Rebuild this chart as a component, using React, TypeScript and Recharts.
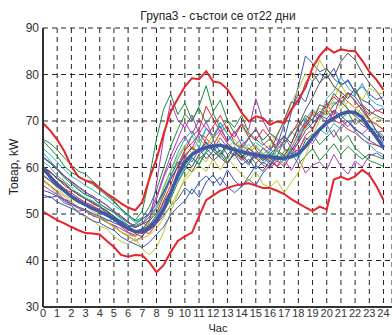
import { LineChart, Line, XAxis, YAxis, CartesianGrid } from 'recharts';

const HOURS = [
  0, 0.5, 1, 1.5, 2, 2.5, 3, 3.5, 4, 4.5, 5, 5.5, 6, 6.5, 7, 7.5,
  8, 8.5, 9, 9.5, 10, 10.5, 11, 11.5, 12, 12.5, 13, 13.5, 14, 14.5, 15, 15.5,
  16, 16.5, 17, 17.5, 18, 18.5, 19, 19.5, 20, 20.5, 21, 21.5, 22, 22.5, 23, 23.5,
  24,
];

// one row per day (22 days), half-hour load in kW
const DAY_LOADS: number[][] = [
  [53.5, 53.8, 52.6, 51.9, 51.2, 50.6, 50.9, 49.8, 49.2, 48.5, 48.9, 47.6, 47.1, 46.2, 45.8, 46.5,
    47.9, 49.6, 51.8, 53.2, 55.6, 54.3, 56.8, 58.2, 56.5, 57.9, 55.8, 54.6, 55.9, 57.4, 56.2, 58.8,
    60.5, 62.3, 66.1, 71.8, 77.5, 84.0, 82.4, 80.6, 81.3, 79.1, 77.8, 78.6, 76.2, 74.5, 73.8, 72.1, 72.8],
  [65.8, 64.1, 62.5, 60.3, 58.9, 58.2, 57.1, 56.4, 55.2, 53.9, 52.6, 51.1, 49.8, 48.7, 50.6, 57.8,
    66.2, 72.5, 75.8, 71.4, 73.9, 70.2, 72.8, 69.5, 71.6, 68.4, 70.1, 67.3, 69.2, 66.5, 68.1, 65.9,
    67.4, 66.2, 64.8, 67.5, 69.1, 70.6, 68.3, 71.2, 69.5, 72.1, 70.4, 71.8, 69.2, 70.5, 68.7, 67.9, 66.8],
  [58.2, 57.1, 55.8, 54.9, 53.6, 52.8, 52.1, 51.4, 50.6, 49.5, 48.8, 47.3, 46.1, 45.4, 46.2, 45.8,
    47.9, 50.3, 54.6, 59.2, 63.5, 66.8, 68.1, 73.2, 70.4, 67.6, 68.9, 65.2, 64.1, 66.5, 63.8, 62.4,
    61.5, 60.2, 62.8, 64.1, 63.5, 66.9, 68.2, 71.5, 73.8, 71.2, 75.6, 74.1, 72.8, 73.5, 71.2, 72.4, 71.6],
  [63.2, 61.5, 59.8, 58.1, 56.9, 55.4, 54.2, 53.5, 52.1, 51.3, 50.2, 48.9, 47.6, 46.3, 46.8, 48.5,
    51.2, 55.8, 59.4, 63.1, 66.2, 67.9, 65.3, 68.4, 66.9, 69.5, 67.2, 64.8, 66.1, 63.9, 65.4, 64.2,
    63.1, 62.5, 61.8, 64.3, 66.9, 70.2, 72.5, 71.1, 74.8, 76.5, 79.4, 77.2, 75.6, 78.1, 74.9, 73.6, 73.1],
  [57.2, 56.1, 54.8, 53.2, 52.6, 51.4, 50.8, 49.6, 49.1, 48.2, 47.5, 46.1, 45.2, 44.3, 45.1, 48.2,
    56.5, 66.3, 74.1, 70.2, 68.5, 71.3, 67.2, 69.8, 66.4, 68.1, 65.9, 67.2, 69.5, 68.1, 74.8, 70.1,
    67.3, 65.8, 64.2, 62.9, 63.8, 66.4, 65.1, 67.8, 69.2, 66.5, 68.9, 70.1, 68.4, 67.2, 68.6, 66.9, 66.1],
  [57.1, 55.9, 54.3, 53.1, 51.8, 50.5, 49.2, 48.6, 47.4, 46.8, 45.2, 44.1, 43.5, 44.8, 42.5, 41.2,
    42.8, 46.1, 50.5, 54.2, 57.8, 60.1, 62.5, 61.2, 63.8, 62.1, 64.5, 61.8, 63.2, 65.1, 62.4, 63.9,
    64.8, 67.2, 69.5, 73.8, 76.9, 80.2, 78.5, 83.1, 80.4, 77.2, 75.8, 72.4, 70.9, 73.1, 70.2, 69.5, 68.2],
  [60.2, 59.1, 57.6, 56.2, 55.1, 54.5, 53.2, 52.6, 51.8, 50.4, 49.6, 48.1, 47.2, 45.8, 45.1, 47.6,
    49.8, 52.4, 55.1, 57.9, 60.2, 59.1, 61.8, 63.2, 61.5, 62.8, 60.9, 63.4, 62.1, 60.5, 62.8, 61.9,
    63.5, 66.8, 70.2, 74.1, 73.5, 78.2, 80.4, 78.1, 81.2, 79.5, 82.8, 84.6, 83.1, 80.4, 78.2, 76.5, 74.2],
  [54.2, 53.5, 53.9, 52.4, 51.8, 50.2, 49.6, 48.5, 48.1, 47.2, 46.5, 45.1, 44.2, 43.5, 42.8, 43.9,
    45.6, 47.2, 49.8, 51.5, 52.8, 55.4, 53.6, 56.9, 58.4, 56.1, 59.5, 57.2, 55.8, 58.1, 60.4, 59.2,
    61.5, 64.8, 69.2, 72.5, 75.8, 74.1, 78.6, 80.2, 79.1, 81.3, 77.5, 78.9, 76.2, 77.4, 75.8, 74.6, 75.2],
  [66.1, 65.2, 63.8, 62.1, 60.5, 59.2, 58.6, 57.1, 55.8, 54.2, 52.9, 51.1, 49.8, 48.5, 49.2, 51.6,
    55.2, 59.8, 64.5, 68.2, 71.5, 69.8, 73.2, 77.6, 72.1, 74.5, 70.2, 68.6, 71.2, 67.5, 66.1, 64.8,
    66.2, 63.5, 61.9, 63.2, 60.8, 62.4, 64.1, 61.5, 63.2, 65.1, 62.8, 64.5, 63.1, 61.8, 62.9, 62.4, 61.8],
  [60.1, 59.2, 57.5, 56.8, 55.2, 54.1, 53.4, 52.2, 51.5, 50.1, 49.2, 48.3, 47.1, 46.2, 46.8, 47.5,
    49.1, 52.8, 56.2, 60.5, 63.8, 65.2, 67.1, 66.4, 68.9, 71.2, 68.1, 66.5, 69.3, 67.1, 65.8, 68.2,
    66.4, 64.1, 65.5, 67.2, 69.8, 68.5, 71.6, 70.2, 72.4, 70.1, 69.5, 68.2, 67.4, 66.1, 65.2, 64.8, 64.1],
  [61.3, 60.1, 58.2, 57.1, 55.8, 54.2, 53.5, 52.8, 51.6, 50.8, 49.5, 48.2, 47.1, 46.4, 45.9, 47.2,
    49.5, 51.8, 54.9, 57.2, 59.8, 62.1, 60.5, 63.2, 64.5, 62.1, 65.2, 63.6, 61.9, 64.1, 62.5, 60.8,
    62.4, 63.9, 65.1, 67.8, 66.2, 69.5, 71.2, 70.5, 72.8, 74.1, 73.2, 75.9, 74.5, 72.1, 70.2, 67.8, 66.2],
  [56.2, 55.1, 54.2, 52.8, 52.1, 51.2, 50.6, 49.8, 49.1, 48.2, 47.6, 46.8, 45.9, 45.1, 46.5, 48.9,
    53.2, 57.8, 61.2, 64.5, 66.8, 63.9, 67.5, 65.2, 63.8, 66.4, 64.2, 62.5, 65.1, 63.4, 61.8, 64.2,
    62.5, 60.1, 61.8, 59.4, 62.1, 58.8, 60.5, 61.2, 59.5, 62.8, 60.2, 58.6, 61.4, 60.1, 62.5, 63.1, 62.2],
  [58.1, 57.2, 55.6, 54.1, 53.2, 52.4, 51.8, 50.5, 49.8, 48.5, 47.2, 46.1, 45.2, 44.1, 44.8, 45.5,
    46.9, 49.2, 51.8, 54.6, 57.2, 58.9, 60.5, 59.2, 61.8, 59.5, 62.1, 60.2, 58.5, 57.1, 59.2, 56.4,
    55.8, 57.2, 54.6, 56.8, 58.9, 62.5, 66.8, 70.2, 72.5, 74.8, 77.9, 75.2, 76.8, 74.5, 77.1, 76.2, 75.8],
  [62.3, 61.1, 59.5, 58.2, 56.9, 55.8, 54.6, 53.9, 52.8, 51.9, 50.6, 49.5, 48.2, 47.1, 47.8, 49.4,
    51.2, 54.5, 58.1, 61.2, 60.5, 62.8, 64.1, 61.9, 63.5, 62.1, 60.8, 63.2, 61.5, 62.8, 60.9, 62.4,
    61.2, 63.8, 62.5, 65.1, 68.9, 72.4, 75.1, 78.2, 79.8, 77.5, 76.2, 74.8, 77.1, 73.5, 72.1, 71.2, 70.4],
  [58.4, 57.2, 55.9, 54.8, 53.5, 52.6, 51.9, 51.2, 50.5, 49.8, 48.6, 47.5, 46.6, 46.1, 46.9, 47.2,
    48.5, 51.2, 54.6, 58.2, 61.5, 60.2, 62.8, 64.1, 62.5, 63.8, 61.2, 62.9, 60.5, 61.8, 59.6, 61.2,
    60.1, 62.5, 61.8, 63.5, 66.2, 68.9, 70.5, 72.1, 71.2, 73.5, 74.8, 76.1, 75.2, 73.1, 70.5, 67.9, 65.2],
  [62.1, 60.9, 59.5, 57.8, 56.5, 55.2, 54.1, 53.5, 52.2, 51.1, 50.4, 49.2, 48.1, 47.5, 48.2, 47.1,
    48.8, 50.5, 53.2, 56.8, 59.5, 62.1, 60.8, 63.5, 65.8, 63.2, 61.9, 64.5, 62.8, 60.9, 63.1, 61.5,
    62.8, 61.2, 63.5, 64.1, 62.5, 65.8, 67.2, 64.9, 66.5, 68.1, 65.4, 66.9, 64.2, 62.8, 61.5, 60.9, 60.2],
  [59.2, 58.1, 56.8, 55.5, 54.6, 53.4, 52.5, 51.8, 50.9, 49.8, 48.9, 47.5, 46.8, 46.1, 45.8, 46.9,
    48.2, 51.5, 55.2, 58.6, 62.1, 64.5, 63.1, 66.2, 64.8, 67.5, 65.2, 63.9, 61.8, 63.5, 62.1, 60.5,
    59.8, 61.5, 60.2, 62.8, 65.5, 69.2, 72.1, 70.8, 73.5, 75.2, 73.8, 76.1, 74.2, 72.5, 70.1, 69.2, 68.1],
  [64.1, 62.8, 61.2, 59.5, 58.1, 57.2, 56.1, 55.2, 54.1, 53.2, 51.9, 50.8, 49.5, 48.2, 48.9, 49.8,
    51.5, 54.9, 58.2, 61.8, 64.5, 66.9, 64.2, 68.5, 66.1, 69.8, 67.2, 65.1, 63.8, 66.2, 64.5, 62.8,
    64.1, 62.2, 60.8, 63.5, 61.9, 64.8, 66.5, 68.2, 67.1, 69.5, 68.2, 70.1, 67.8, 66.2, 64.9, 63.5, 62.8],
  [62.2, 61.1, 59.8, 58.2, 57.1, 55.9, 54.8, 53.6, 52.9, 51.8, 50.5, 49.6, 48.4, 47.2, 47.9, 50.2,
    53.8, 58.2, 62.5, 66.1, 69.8, 67.2, 70.1, 68.5, 66.8, 68.9, 65.5, 67.8, 64.9, 66.1, 68.4, 65.2,
    63.8, 65.2, 66.9, 64.1, 67.5, 69.8, 68.1, 71.2, 69.5, 72.1, 70.2, 68.8, 70.5, 69.1, 68.2, 67.5, 67.9],
  [57.5, 56.2, 55.1, 53.8, 52.6, 51.5, 50.8, 49.9, 49.1, 48.2, 47.1, 46.2, 45.5, 45.1, 46.2, 48.5,
    51.2, 55.5, 59.1, 62.5, 64.8, 63.1, 66.2, 64.5, 67.1, 65.2, 63.8, 66.1, 64.2, 62.5, 64.8, 63.1,
    61.5, 63.8, 62.1, 64.5, 66.8, 68.2, 70.5, 72.8, 71.2, 73.9, 72.5, 74.1, 72.8, 71.5, 70.2, 70.8, 69.9],
  [60.1, 58.9, 57.8, 56.5, 55.2, 54.1, 53.2, 52.4, 51.5, 50.6, 49.5, 48.5, 47.6, 47.1, 47.8, 48.6,
    50.2, 53.8, 57.5, 60.2, 62.8, 64.1, 63.2, 65.5, 64.1, 62.8, 65.2, 63.5, 62.1, 64.2, 62.8, 61.5,
    62.9, 64.5, 66.8, 65.2, 68.5, 71.2, 70.1, 73.5, 72.8, 75.9, 74.2, 72.5, 71.1, 69.8, 68.2, 67.1, 66.4],
  [55.1, 54.6, 53.8, 53.1, 52.2, 51.5, 50.9, 50.1, 49.5, 48.8, 48.1, 47.5, 47.1, 47.8, 48.9, 50.2,
    52.1, 54.8, 57.5, 60.1, 62.5, 61.2, 63.8, 65.2, 63.5, 65.1, 62.8, 64.2, 62.5, 61.1, 63.4, 62.1,
    60.8, 62.5, 61.5, 63.8, 65.2, 67.9, 69.5, 71.2, 70.5, 72.4, 71.1, 69.8, 68.2, 67.1, 65.8, 64.9, 64.2],
];

const MEAN_LOAD = [
  60.0, 58.0, 56.4, 55.0, 53.8, 52.8, 52.0, 51.2, 50.5, 49.8, 49.0, 48.0, 46.9, 46.2, 46.3, 47.0,
  48.6, 51.0, 54.5, 58.3, 61.2, 62.8, 63.8, 64.3, 64.6, 64.8, 64.3, 63.8, 63.4, 63.0, 62.7, 62.5,
  62.3, 62.0, 62.0, 62.3, 63.0, 64.5, 66.5, 68.2, 69.6, 70.6, 71.5, 72.0, 71.8, 70.8, 68.6, 66.5,
  64.3,
];

const UPPER_BOUND = [
  69.5, 68.0, 66.0, 63.5, 60.2, 58.0, 57.2, 56.8, 55.5, 54.4, 53.4, 52.3, 51.4, 50.8, 52.6, 57.6,
  61.8, 67.2, 72.0, 74.8, 77.4, 79.2, 79.0, 80.7, 78.5, 78.2, 76.8, 74.4, 71.8, 69.9, 71.0, 70.6,
  69.2, 69.9, 69.6, 72.4, 74.6, 77.2, 81.5, 84.0, 85.8, 84.7, 85.4, 85.1, 85.0, 83.0, 80.6, 78.9,
  76.7,
];

const LOWER_BOUND = [
  50.5, 49.6, 48.7, 48.0, 47.2, 46.5, 45.9, 45.8, 45.6, 44.2, 42.9, 41.2, 40.8, 41.2, 41.1, 39.6,
  37.5, 39.0, 41.8, 44.2, 45.2, 46.0, 49.5, 53.0, 54.0, 55.0, 55.6, 56.1, 56.4, 56.6, 56.1, 55.6,
  55.6, 55.0, 54.3, 53.2, 52.3, 51.4, 50.6, 51.6, 51.0, 57.4, 58.0, 57.4, 58.1, 59.5, 58.4, 56.0,
  53.0,
];

const X_TICKS = [0, 1, 2, 3, 4, 5, 6, 7, 8, 9, 10, 11, 12, 13, 14, 15, 16, 17, 18, 19, 20, 21, 22, 23, 24];
const Y_TICKS = [30, 40, 50, 60, 70, 80, 90];

// matlab-ish colour order: b g r c m y k
const DAY_COLORS = ['#3553b3', '#1d8a3c', '#e4262b', '#1fb4c4', '#a53db2', '#c2c227', '#555555'];

const FONT = '"Liberation Sans", Arial, sans-serif';

const chartData = HOURS.map((hour, i) => {
  const row: Record<string, number> = {
    hour,
    mean: MEAN_LOAD[i],
    upper: UPPER_BOUND[i],
    lower: LOWER_BOUND[i],
  };
  DAY_LOADS.forEach((day, d) => {
    row[`d${d}`] = day[i];
  });
  return row;
});

export default function App() {
  return (
    <div
      style={{
        position: 'absolute',
        left: 0,
        top: 0,
        width: 392,
        height: 335,
        background: '#fff',
        fontFamily: FONT,
        overflow: 'hidden',
      }}
    >
      <LineChart width={392} height={335} data={chartData} margin={{ top: 28, right: 0, bottom: 0, left: 0 }}>
        <CartesianGrid stroke="#222" strokeDasharray="5 4" strokeWidth={1} />
        <XAxis
          dataKey="hour"
          type="number"
          domain={[0, 24.6]}
          ticks={X_TICKS}
          interval={0}
          height={28}
          tickLine={false}
          tickSize={2}
          tickMargin={0}
          axisLine={{ stroke: '#333', strokeWidth: 2 }}
          tick={{ fill: '#333', fontSize: 11, fontFamily: FONT }}
        />
        <YAxis
          type="number"
          domain={[30, 90]}
          ticks={Y_TICKS}
          width={43}
          tickLine={false}
          tickSize={3}
          tickMargin={1}
          axisLine={{ stroke: '#333', strokeWidth: 2 }}
          tick={{ fill: '#333', fontSize: 12, fontFamily: FONT }}
        />
        {DAY_LOADS.map((_, d) => (
          <Line
            key={d}
            type="linear"
            dataKey={`d${d}`}
            stroke={DAY_COLORS[d % DAY_COLORS.length]}
            strokeWidth={1}
            dot={false}
            isAnimationActive={false}
          />
        ))}
        <Line type="linear" dataKey="upper" stroke="#e8232a" strokeWidth={2} dot={false} isAnimationActive={false} />
        <Line type="linear" dataKey="lower" stroke="#e8232a" strokeWidth={2} dot={false} isAnimationActive={false} />
        <Line type="linear" dataKey="mean" stroke="#3c5aa8" strokeWidth={3.5} dot={false} isAnimationActive={false} />
      </LineChart>
      <div style={{ position: 'absolute', left: 0, width: 436, top: 9, textAlign: 'center', fontSize: 12, color: '#222', lineHeight: '14px' }}>
        Група3 - състои се от22 дни
      </div>
      <div style={{ position: 'absolute', left: 0, width: 436, top: 322, textAlign: 'center', fontSize: 11, color: '#222', lineHeight: '12px' }}>
        Час
      </div>
      <div
        style={{
          position: 'absolute',
          left: 14,
          top: 167,
          fontSize: 12,
          color: '#222',
          lineHeight: '14px',
          whiteSpace: 'nowrap',
          transform: 'translate(-50%, -50%) rotate(-90deg)',
        }}
      >
        Товар, kW
      </div>
    </div>
  );
}
